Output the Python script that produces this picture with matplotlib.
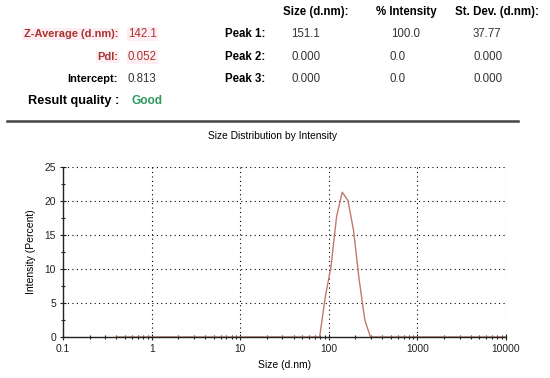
import matplotlib.pyplot as plt
import numpy as np
from matplotlib.ticker import LogLocator, MultipleLocator, FixedFormatter, FixedLocator

plt.rcParams['font.family'] = ['Liberation Sans', 'DejaVu Sans']

# size bins (d.nm) and intensity (%)
sizes = [0.4, 1.0, 10.0, 50.0, 68.06, 78.82, 91.28, 105.7, 122.4, 141.8, 164.2,
         190.1, 220.2, 255.0, 295.3, 342.0, 1000.0, 10000.0]
intensity = [0.0, 0.0, 0.0, 0.0, 0.0, 0.0, 5.9, 10.3, 17.7, 21.3, 20.1,
             15.7, 8.4, 2.5, 0.0, 0.0, 0.0, 0.0]

x_ticks = [0.1, 1, 10, 100, 1000, 10000]
x_tick_labels = ['0.1', '1', '10', '100', '1000', '10000']
y_ticks = [0, 5, 10, 15, 20, 25]

# header table
left_labels = ['Z-Average (d.nm):', 'PdI:', 'Intercept:', 'Result quality :']
left_values = ['142.1', '0.052', '0.813', 'Good']
peak_labels = ['Peak 1:', 'Peak 2:', 'Peak 3:']
col_headers = ['Size (d.nm):', '% Intensity', 'St. Dev. (d.nm):']
peak_size = ['151.1', '0.000', '0.000']
peak_int = ['100.0', '0.0', '0.0']
peak_sd = ['37.77', '0.000', '0.000']

W, H = 550, 378
fig = plt.figure(figsize=(5.5, 3.78), dpi=100)
fig.patch.set_facecolor('white')

def fx(px):
    return px / W

def fy(py):
    return 1 - py / H

fs = 8.3
red = '#a8352e'
# left block
label_cols = [red, red, 'black', 'black']
value_cols = [red, red, '#333333', '#2e9a5e']
rows_y = [34, 57, 79, 101]
for i, (lab, val) in enumerate(zip(left_labels, left_values)):
    xr = 118 if i < 3 else 119
    t = fig.text(fx(xr), fy(rows_y[i]), lab, ha='right', va='center',
                 fontsize=7.9 if i < 3 else 9.2, color=label_cols[i], fontweight='bold')
    if i < 2:
        t.set_bbox(dict(facecolor='#fdeef3', edgecolor='none', pad=1.0))
    vx = 128 if i < 3 else 132
    t2 = fig.text(fx(vx), fy(rows_y[i]), val, ha='left', va='center',
                  fontsize=fs if i < 3 else 8.6,
                  color=value_cols[i], fontweight='bold' if i == 3 else 'normal')
    if i < 2:
        t2.set_bbox(dict(facecolor='#fdeef3', edgecolor='none', pad=1.0))

# peak block
for i, lab in enumerate(peak_labels):
    fig.text(fx(265), fy(rows_y[i]), lab, ha='right', va='center', fontsize=fs,
             color='black', fontweight='bold')
    fig.text(fx(291), fy(rows_y[i]), peak_size[i], ha='left', va='center', fontsize=fs, color='#333333')
    fig.text(fx(391 if i == 0 else 390), fy(rows_y[i]), peak_int[i], ha='left', va='center', fontsize=fs, color='#333333')
    fig.text(fx(473), fy(rows_y[i]), peak_sd[i], ha='left', va='center', fontsize=fs, color='#333333')

hdr_x = [283, 376, 455]
for hx, h in zip(hdr_x, col_headers):
    fig.text(fx(hx), fy(12), h, ha='left', va='center', fontsize=fs, fontweight='bold', color='black')

# separator line
fig.add_artist(plt.Line2D([fx(7), fx(518)], [fy(121), fy(121)], color='#444444', lw=1.8))

# chart
ax = fig.add_axes([fx(63), fy(337), fx(506 - 63), (337 - 167) / H])
ax.plot(sizes, intensity, color='#c07a68', lw=1.0, zorder=2)
ax.set_xscale('log')
ax.set_xlim(0.1, 10000)
ax.set_ylim(0, 25)
ax.xaxis.set_major_locator(FixedLocator(x_ticks))
ax.xaxis.set_major_formatter(FixedFormatter(x_tick_labels))
ax.xaxis.set_minor_locator(LogLocator(base=10, subs=np.arange(2, 10)))
ax.set_yticks(y_ticks)
ax.yaxis.set_minor_locator(MultipleLocator(2.5))
ax.grid(True, which='major', color='black', linestyle=(0, (1, 3)), lw=0.8)
for s in ['top', 'right']:
    ax.spines[s].set_visible(False)
for s in ['left', 'bottom']:
    ax.spines[s].set_color('#222222')
    ax.spines[s].set_linewidth(1.0)
    ax.spines[s].set_zorder(3)
ax.tick_params(which='both', direction='inout', colors='#222222', labelsize=7.4,
               length=4, width=0.8, pad=3)
ax.tick_params(which='minor', length=3)
ax.set_xlabel('Size (d.nm)', fontsize=7.5, labelpad=4)
ax.set_ylabel('Intensity (Percent)', fontsize=7.5, labelpad=6)

fig.text(fx(272), fy(136), 'Size Distribution by Intensity', ha='center', va='center', fontsize=7.4)

fig.savefig('out.png', dpi=100)
